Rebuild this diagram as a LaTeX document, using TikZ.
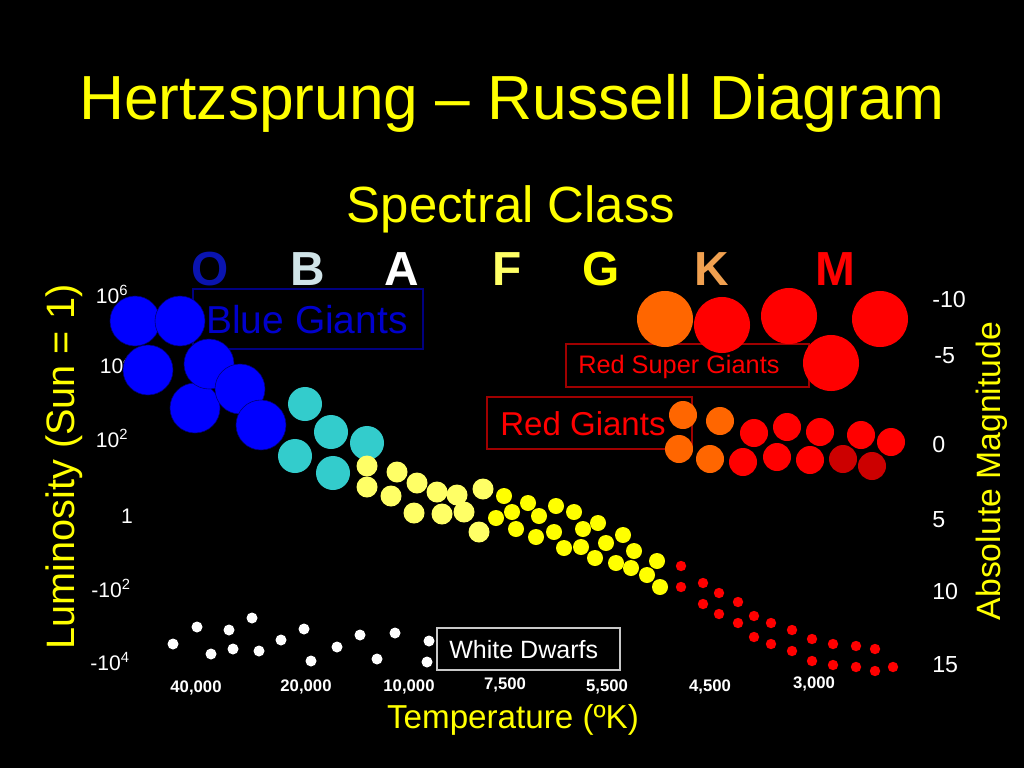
\documentclass[tikz,border=0pt]{standalone}
\usepackage{fontspec}
\setmainfont{Liberation Sans}
\definecolor{hryellow}{HTML}{FFFF00}
\definecolor{hrpale}{HTML}{FFFF66}
\definecolor{hrteal}{HTML}{33CCCC}
\definecolor{hrblue}{HTML}{0000FF}
\definecolor{hrorange}{HTML}{FF6600}
\definecolor{hrred}{HTML}{FF0000}
\definecolor{hrdark}{HTML}{CC0000}
\definecolor{hrnavy}{HTML}{0000CC}
\definecolor{hrboxblue}{HTML}{000080}
\definecolor{hrboxred}{HTML}{A00000}
\definecolor{hrgray}{HTML}{C8C8C8}
\definecolor{classO}{HTML}{0A14B0}
\definecolor{classB}{HTML}{D0E4E8}
\definecolor{classK}{HTML}{F0A050}

\begin{document}
\begin{tikzpicture}[x=0.025cm, y=-0.025cm,
    every node/.style={inner sep=0pt},
    ball/.style={circle, inner sep=0pt, minimum size=#1*0.05cm},
    bluegiant/.style={ball=25, fill=hrblue, draw=hrblue!45!black, line width=0.4pt},
    bstar/.style={ball=17, fill=hrteal},
    astar/.style={ball=10.5, fill=hrpale},
    gstar/.style={ball=8, fill=hryellow},
    mdwarf/.style={ball=5.2, fill=hrred},
    wdwarf/.style={ball=5.5, fill=white},
    supergiant/.style={ball=28, fill=#1},
    giant/.style={ball=14, fill=#1},
    lumtick/.style={text=white, font=\fontsize{15}{18}\selectfont, anchor=base},
    magtick/.style={text=white, font=\fontsize{16.5}{19}\selectfont, anchor=base west},
    temptick/.style={text=white, font=\bfseries\fontsize{11.9}{14}\selectfont, anchor=base},
    classletter/.style={font=\bfseries\fontsize{34}{40}\selectfont, anchor=base},
    axislabel/.style={text=hryellow, anchor=base},
    groupbox/.style={draw, line width=1pt}
  ]
  \fill[black] (0,0) rectangle (1024,768);
  \useasboundingbox (0,0) rectangle (1024,768);

  % titles
  \node[axislabel, font=\fontsize{44.3}{50}\selectfont] (title) at (512,120) {Hertzsprung – Russell Diagram};
  \node[axislabel, font=\fontsize{36.2}{42}\selectfont] (spectral) at (511,222) {Spectral Class};
  \foreach \c/\x/\col in {O/210/classO, B/308/classB, A/402/white, F/507/hrpale,
      G/601/hryellow, K/712/classK, M/835/hrred}
    \node[classletter, text=\col] (class\c) at (\x,285) {\c};

  % axes
  \node[axislabel, rotate=90, font=\fontsize{28.2}{34}\selectfont] (lumaxis) at (74,467) {Luminosity (Sun = 1)};
  \node[axislabel, rotate=90, font=\fontsize{24}{29}\selectfont] (magaxis) at (1000,471) {Absolute Magnitude};
  \node[axislabel, font=\fontsize{23.6}{28}\selectfont] (tempaxis) at (513,728) {Temperature (ºK)};

  \node[lumtick] (lum6) at (112,303) {10\textsuperscript{6}};
  \node[lumtick] (lum4) at (116,373) {10\textsuperscript{4}};
  \node[lumtick] (lum2) at (112,447) {10\textsuperscript{2}};
  \node[lumtick] (lum0) at (127,523) {1};
  \node[lumtick] (lumm2) at (111,597) {-10\textsuperscript{2}};
  \node[lumtick] (lumm4) at (110,670) {-10\textsuperscript{4}};

  \node[magtick] (magm10) at (932,307) {-10};
  \node[magtick] (magm5) at (934,363) {-5};
  \node[magtick] (mag0) at (932,452) {0};
  \node[magtick] (mag5) at (932,527) {5};
  \node[magtick] (mag10) at (932,599) {10};
  \node[magtick] (mag15) at (932,672) {15};

  \node[temptick] (t40000) at (196,692) {40,000};
  \node[temptick] (t20000) at (306,691) {20,000};
  \node[temptick] (t10000) at (409,691) {10,000};
  \node[temptick] (t7500) at (505,689) {7,500};
  \node[temptick] (t5500) at (607,691) {5,500};
  \node[temptick] (t4500) at (710,691) {4,500};
  \node[temptick] (t3000) at (814,688) {3,000};

  % group labels
  \node[groupbox, draw=hrboxblue, minimum width=5.75cm, minimum height=1.5cm] (bgbox) at (308,319) {};
  \node[anchor=base west, text=hrnavy, font=\fontsize{27.7}{33}\selectfont] (bglabel) at (206,333) {Blue Giants};
  \node[groupbox, draw=hrboxred, minimum width=6.075cm, minimum height=1.075cm] (rsgbox) at (687.5,365.5) {};
  \node[anchor=base west, text=hrred, font=\fontsize{18}{22}\selectfont] (rsglabel) at (578,373) {Red Super Giants};
  \node[groupbox, draw=hrboxred, minimum width=5.125cm, minimum height=1.3cm] (rgbox) at (589.5,423) {};
  \node[anchor=base west, text=hrred, font=\fontsize{23.5}{28}\selectfont] (rglabel) at (500,435) {Red Giants};
  \node[groupbox, draw=hrgray, minimum width=4.575cm, minimum height=1.05cm] (wdbox) at (528.5,649) {};
  \node[anchor=base west, text=white, font=\fontsize{17.8}{21}\selectfont] (wdlabel) at (449,658) {White Dwarfs};

  % stars
  \foreach \x/\y [count=\i] in {135/321, 180/321, 148/370, 195/408, 209/364, 240/389, 261/425}
    \node[bluegiant] (blue\i) at (\x,\y) {};
  \foreach \x/\y [count=\i] in {305/404, 331/432, 367/443, 295/456, 333/473}
    \node[bstar] (teal\i) at (\x,\y) {};
  \foreach \x/\y [count=\i] in {367/466, 367/487, 397/472, 391/496, 417/483, 414/513,
      437/492, 457/495, 442/514, 464/512, 483/489, 479/532}
    \node[astar] (ms\i) at (\x,\y) {};
  \foreach \x/\y [count=\i] in {504/496, 528/503, 556/506, 574/512, 496/518, 512/512,
      539/516, 516/529, 554/532, 536/537, 583/529, 598/523, 564/548, 581/547, 606/543,
      623/535, 595/558, 634/551, 616/563, 657/561, 631/568, 647/575, 660/587}
    \node[gstar] (sun\i) at (\x,\y) {};
  \foreach \x/\y [count=\i] in {681/566, 681/587, 703/583, 719/593, 703/604, 738/602,
      719/614, 738/623, 754/616, 771/623, 754/637, 792/630, 771/644, 812/639, 792/651,
      833/644, 856/646, 875/649, 812/661, 833/665, 856/667, 875/671, 893/667}
    \node[mdwarf] (rd\i) at (\x,\y) {};
  \foreach \x/\y [count=\i] in {173/644, 197/627, 211/654, 229/630, 233/649, 252/618,
      259/651, 281/640, 304/629, 311/661, 337/647, 360/635, 377/659, 395/633,
      429/641, 427/662}
    \node[wdwarf] (wd\i) at (\x,\y) {};
  \foreach \x/\y/\col [count=\i] in {665/319/hrorange, 722/325/hrred, 789/316/hrred,
      880/319/hrred, 831/363/hrred}
    \node[supergiant=\col] (rsg\i) at (\x,\y) {};
  \foreach \x/\y/\col [count=\i] in {683/415/hrorange, 720/421/hrorange, 679/449/hrorange,
      710/459/hrorange, 754/433/hrred, 787/427/hrred, 820/432/hrred, 861/435/hrred,
      891/442/hrred, 743/462/hrred, 777/457/hrred, 810/460/hrred, 843/459/hrdark,
      872/466/hrdark}
    \node[giant=\col] (rg\i) at (\x,\y) {};
\end{tikzpicture}
\end{document}
